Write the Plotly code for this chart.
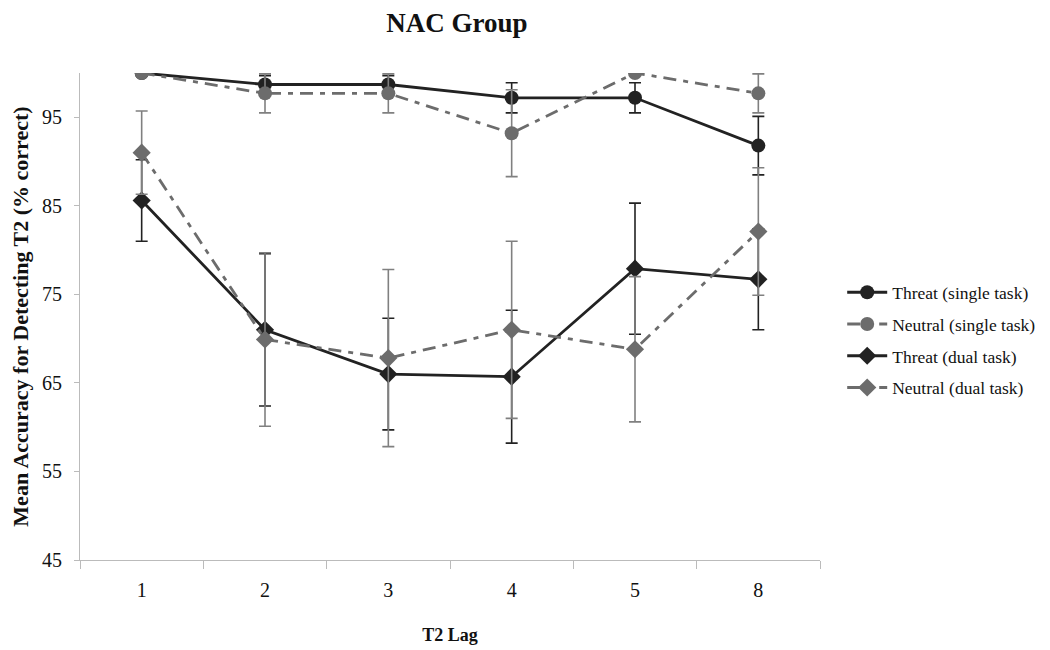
import plotly.graph_objects as go

lags = ["1", "2", "3", "4", "5", "8"]

threat_single = [100, 98.7, 98.7, 97.2, 97.2, 91.8]
threat_single_err = [0, 1.0, 1.0, 1.7, 1.7, 3.3]

neutral_single = [100, 97.7, 97.7, 93.2, 100, 97.7]
neutral_single_err = [0, 2.2, 2.2, 4.9, 0, 2.2]

threat_dual = [85.6, 71.0, 66.0, 65.7, 77.9, 76.7]
threat_dual_err = [4.6, 8.6, 6.3, 7.5, 7.4, 5.7]

neutral_dual = [91.0, 69.9, 67.8, 71.0, 68.8, 82.1]
neutral_dual_err = [4.7, 9.8, 10.0, 10.0, 8.2, 7.2]

y_ticks = [45, 55, 65, 75, 85, 95]

DARK = "#222222"
GREY = "#6c6c6c"
ERR_GREY = "#808080"
DASH = "13px,7px,5px,7px"
FONT = "Liberation Serif"

fig = go.Figure()

def add(name, y, err, color, errcolor, symbol, dash):
    fig.add_trace(go.Scatter(
        x=lags, y=y, name=name, mode="lines+markers", legendgroup=name,
        line=dict(color=color, width=2.8, dash=dash),
        marker=dict(symbol=symbol, size=14, color=color),
        error_y=dict(type="data", array=err, visible=True,
                     color=errcolor, thickness=1.6, width=6),
    ))

add("Threat (single task)", threat_single, threat_single_err, DARK, DARK, "circle", "solid")
add("Neutral (single task)", neutral_single, neutral_single_err, GREY, ERR_GREY, "circle", DASH)
add("Threat (dual task)", threat_dual, threat_dual_err, DARK, DARK, "diamond", "solid")
add("Neutral (dual task)", neutral_dual, neutral_dual_err, GREY, ERR_GREY, "diamond", DASH)

fig.update_layout(
    width=1050, height=650,
    margin=dict(l=72, r=238, t=65, b=98, autoexpand=False),
    paper_bgcolor="white", plot_bgcolor="white",
    font=dict(family=FONT, size=20, color="#111"),
    title=dict(text="<b>NAC Group</b>", x=0.4276, xanchor="center", y=0.977, yanchor="middle",
               font=dict(family=FONT, size=27, color="#111")),
    showlegend=True,
    legend=dict(x=1.03, xanchor="left", y=0.452, yanchor="middle",
                font=dict(family=FONT, size=17.5, color="#111"),
                tracegroupgap=6, itemwidth=40, bgcolor="rgba(0,0,0,0)"),
)

fig.update_xaxes(
    type="category", categoryorder="array", categoryarray=lags,
    range=[-0.5, 5.5], showgrid=False, showline=True, linecolor="#bbbbbb", linewidth=1,
    ticks="outside", tickson="boundaries", ticklen=8, tickcolor="#bbbbbb",
    ticklabelstandoff=12,
    tickfont=dict(family=FONT, size=20, color="#111"),
    title=dict(text="<b>T2 Lag</b>", font=dict(family=FONT, size=18, color="#111"), standoff=28),
    zeroline=False, automargin=False,
)
fig.update_yaxes(
    range=[45, 100], tickvals=y_ticks, showgrid=False, showline=True,
    linecolor="#bbbbbb", linewidth=1, ticks="outside", ticklen=5, tickcolor="#bbbbbb",
    ticklabelstandoff=8,
    tickfont=dict(family=FONT, size=20, color="#111"),
    title=dict(text="<b>Mean Accuracy for Detecting T2 (% correct)</b>",
               font=dict(family=FONT, size=22, color="#111"), standoff=9),
    zeroline=False, automargin=False,
)

fig.write_html("out.html")
